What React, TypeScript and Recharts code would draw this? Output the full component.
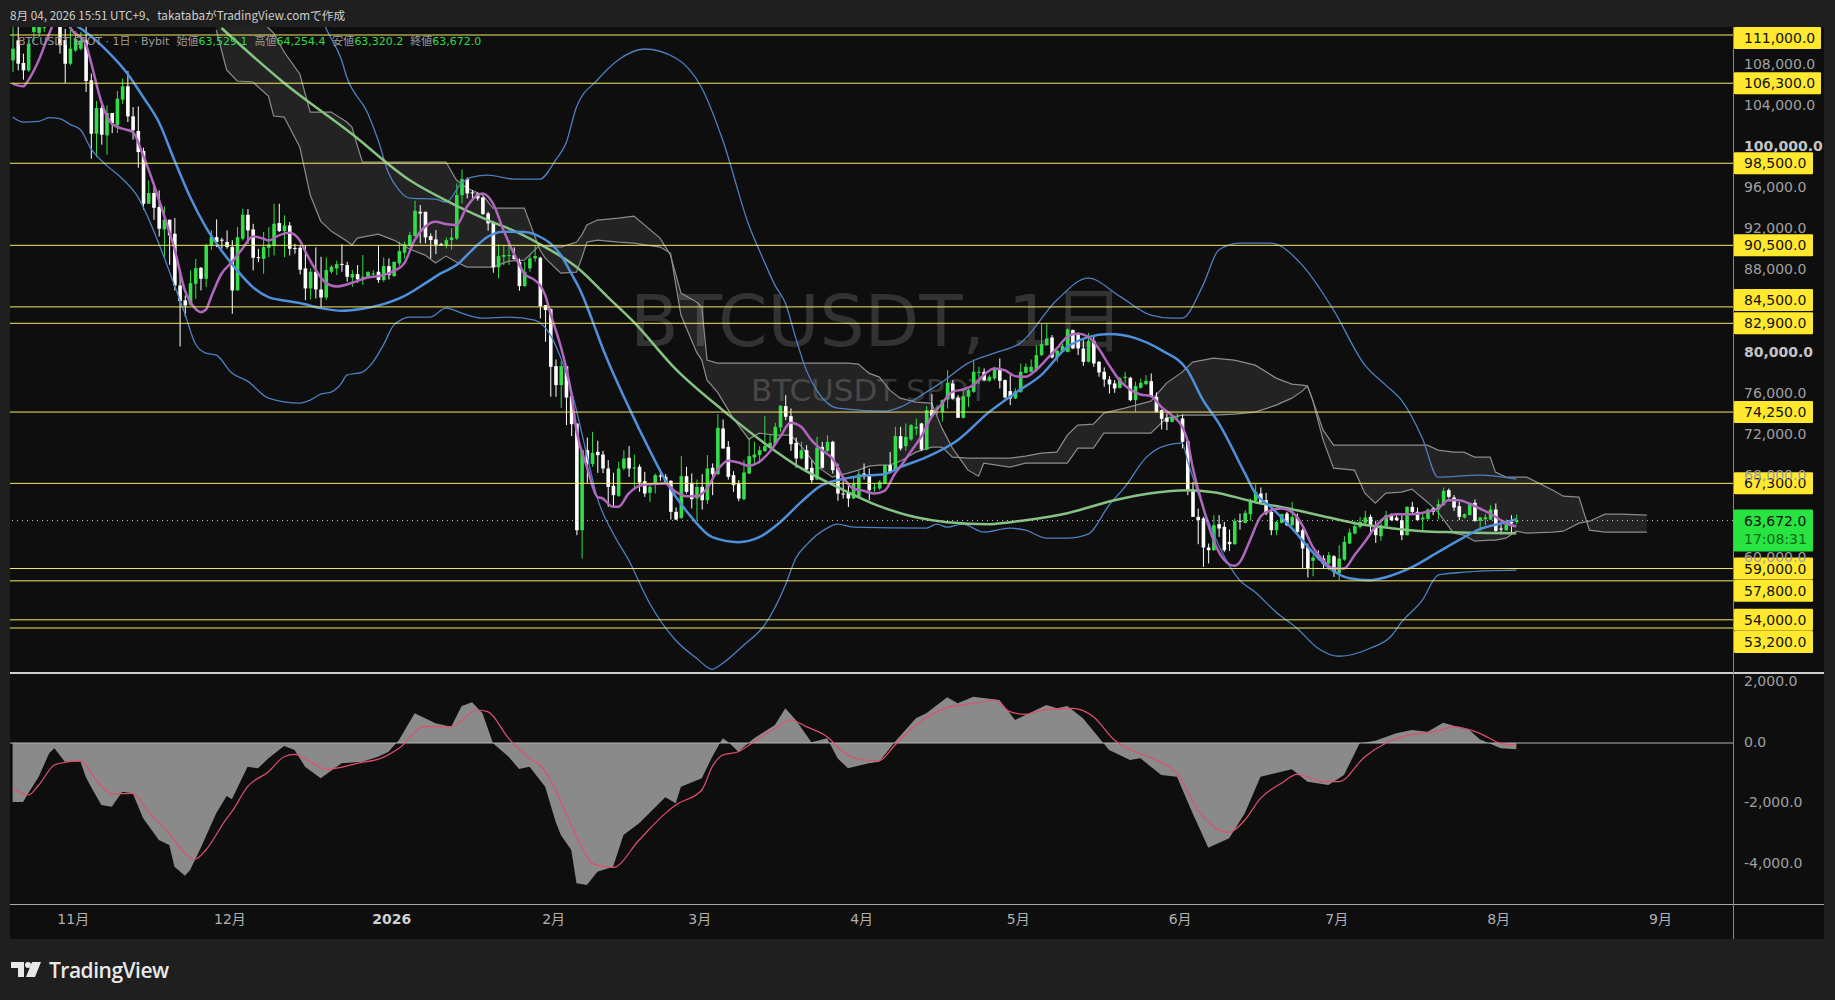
import { Area, Bar, ComposedChart, Line, ReferenceLine, XAxis, YAxis } from "recharts";

// one row per day, 2025-10-20 is slot 0, the axis runs on past the last bar
const SLOTS = 330;

// candles, [open, high, low, close]
const OCT: number[][] = [
  [108530,112000,107390,109670],[110480,112000,107555,108205],[108270,109180,106645,107555],[107555,110480,107400,110155],
  [111300,113000,110400,112300],[111200,113500,110800,113000],[111700,113500,111300,112500],[112800,114000,112300,113500],
  [113500,114500,112500,112900],[112600,113500,109180,110000],[110500,111600,106320,108200],[108200,111700,108050,109670],
];
const NOV: number[][] = [
  [109500,111400,109350,110600],[109670,111300,109500,110480],[110480,111780,105440,106515],[106580,107230,98940,101380],
  [101380,104565,99105,103880],[103880,104150,100310,101280],[101220,104150,99330,103400],[103400,103400,101445,102420],
  [102200,105540,101445,104790],[104700,106740,104300,106000],[106000,107490,102520,103070],[103070,103980,100800,101705],
  [101640,104040,98065,99590],[99690,100015,93970,94555],[94555,96830,94555,95600],[95600,96340,92995,94160],
  [94230,95855,91370,92120],[92050,94300,89190,93000],[93000,93000,88600,91470],[91630,93160,86105,86590],
  [86590,87730,80645,85065],[85130,85620,83505,84640],[84710,88055,84640,86820],[86755,89190,85295,88280],
  [88315,88380,86105,87240],[87240,90650,86430,90490],[90490,91955,90070,91305],[91305,93030,90330,90820],
  [91050,91240,90170,90950],[90820,91955,90170,90330],
];
const DEC: number[][] = [
  [90330,91000,83830,86105],[86105,92280,86105,91305],[91145,94070,90980,93480],[93480,94035,90650,91955],
  [92050,92600,88055,89290],[89350,90170,88870,89250],[89190,91800,87730,90330],[90265,92280,89350,90590],
  [90490,94555,89515,92600],[92670,94555,91790,91890],[91890,93420,89350,92440],[92440,92770,89515,90170],
  [90250,90650,89680,90170],[90265,90490,87665,88120],[88250,90500,85160,86300],[86300,88250,85225,87925],
  [87925,90300,85325,86200],[86200,89390,84512,85420],[85420,89320,85160,88085],[87925,88575,87760,88410],
  [88250,89000,87600,88670],[88690,90620,87925,88620],[88575,88900,86950,87440],[87370,88085,86460,87700],
  [87700,88575,86850,87180],[87370,89550,86625,87440],[87440,87925,87370,87925],[87700,88085,87600,87760],
  [87925,90425,86850,87110],[87110,89320,86950,88475],[88475,89225,87180,87600],
];
const JAN: number[][] = [
  [87500,88900,87440,88900],[88735,90850,88475,89940],[89775,90850,89225,90620],[90525,91825,90360,91500],
  [91400,94850,91340,93870],[93770,94425,90690,93610],[93770,93770,90690,91270],[91400,91660,89225,91010],
  [91075,91985,89650,90555],[90620,90750,90425,90520],[90525,91270,90200,91010],[91010,92150,90100,91270],
  [91175,96540,91010,95400],[95400,97900,94585,96960],[96960,97120,95075,95560],[95660,95890,94910,95560],
  [95560,95630,94850,95075],[95170,95240,93450,93550],[93610,93770,91920,92640],[92700,92860,87825,88350],
  [88350,90620,87275,89450],[89390,90525,88575,89550],[89550,91010,88575,89550],[89550,90300,89125,89160],
  [88900,89225,86075,86525],[86525,88900,86460,87925],[88250,89550,87925,89225],[89225,90525,88900,89450],
  [89290,89390,83375,84575],[84675,84675,81100,84185],[84285,84350,75740,78660],
];
const FEB: number[][] = [
  [78725,79375,75740,76875],[76875,79250,74665,78725],[78725,78725,72975,75670],[75800,75900,71900,73070],
  [73130,73130,62250,62735],[62735,70535,59975,70535],[70535,71770,67350,69235],[69200,72325,68910,70275],
  [70375,71450,68325,70050],[70115,70470,68300,68750],[68750,69560,65010,66960],[67060,68330,65075,66150],
  [66085,69400,65985,68750],[68750,70535,68590,69725],[69790,70930,67935,68750],[68850,70115,66640,68850],
  [68910,69140,66475,67385],[67515,68425,65985,66310],[66375,67125,65500,66960],[67290,68260,66310,68100],
  [68050,68650,67550,68000],[67935,68200,67290,67450],[67550,67600,63775,64525],[64525,64950,63710,63775],
  [63940,69950,63840,68000],[68000,68910,66310,66475],[67350,68260,64850,65760],[65825,67675,63712,66960],
];
const MAR: number[][] = [
  [66960,68200,64750,65660],[65660,70050,65275,68750],[68815,69240,66150,68200],[68200,74047,68100,72715],
  [72650,73530,70700,70700],[70860,71415,67675,67935],[68100,68490,66475,67125],[67290,67612,65565,65825],
  [65760,69560,65660,68360],[68260,71675,68200,69950],[69820,71350,69240,70115],[70050,70930,69240,70535],
  [70440,73850,70375,70930],[70860,72000,70700,71250],[71120,73200,71020,72810],[72750,74925,72325,74860],
  [74830,75900,73460,73790],[73850,74600,70470,71120],[71250,71770,68815,69725],[69725,71350,69625,70535],
  [70535,71020,68590,68650],[68815,69560,67350,67612],[67675,71837,67612,70800],[70860,71350,68750,68815],
  [70440,72000,70375,71350],[71350,71450,68260,68590],[68815,69240,65600,66310],[66310,67600,65820,66250],
  [66375,67290,65010,65825],[65825,67935,65760,67290],[65985,68525,65920,68200],
];
const APR: number[][] = [
  [68260,69240,67675,67935],[68100,68750,65660,66640],[66800,67290,66475,66900],[66800,67612,66640,67450],
  [67290,69140,67225,69075],[69075,70375,68260,68325],[68590,72810,68525,71900],[71900,72810,70500,70700],
  [70925,73137,70470,71837],[71575,73080,71450,72975],[72650,73620,72000,72810],[73137,73200,70470,70600],
  [70600,74830,70535,74437],[74437,76000,73790,73850],[74500,74925,73950,74700],[74280,75475,73300,75410],
  [75475,78337,74600,77100],[77037,77360,75475,75575],[75675,75900,73690,73690],[73690,76550,73625,75800],
  [75735,76550,74760,76385],[76225,79375,76125,78175],[78075,78660,76970,78175],[78175,78500,77260,77360],
  [77300,77850,77200,77687],[77525,78660,77360,78500],[78400,79475,76550,77297],[77360,77425,75575,75675],
  [76290,77850,74925,75575],[75575,76550,75510,76290],
];
const MAY: number[][] = [
  [76225,78985,76125,78175],[78075,78985,78010,78660],[78175,79375,78110,78660],[78337,80775,78175,79800],
  [79800,82820,79700,80870],[80775,82820,80710,81425],[81520,81750,79475,79575],[79575,80290,79150,80225],
  [80125,80935,80060,80675],[80125,82400,80060,82300],[82237,82300,80385,80450],[81850,81915,79800,80450],
  [80450,81260,78760,79150],[79150,81975,79085,81197],[81197,81590,78660,78985],[79150,79215,77687,78110],
  [78175,78600,76710,77425],[77425,77750,76060,76940],[77037,77360,76125,76550],[76615,77687,76550,77525],
  [77575,78175,77037,77687],[77590,77687,75310,75410],[75410,77200,74275,76775],[76615,77525,76550,77100],
  [76970,77850,76875,77297],[77260,78010,75670,75735],[75735,76160,74175,74275],[74437,74500,72550,73590],
  [73690,74115,72487,73300],[73300,73885,73235,73787],[73800,74115,73450,73850],
];
const JUN: number[][] = [
  [73625,74015,70700,71350],[71415,71510,66150,66640],[66700,67450,64037,64037],[64037,64850,61372,63712],
  [63875,64037,59162,61047],[61047,61437,59487,60787],[60787,64200,60720,63225],[63322,64200,62087,62900],
  [63062,63550,60625,60787],[61600,62800,60720,61372],[61372,63875,61307,63647],[63650,64362,62800,63600],
  [63450,64687,63387,64425],[64300,65825,63650,65600],[65600,67225,65500,66475],[66312,66900,65400,65500],
  [65662,66375,64200,64362],[64525,64687,62250,62737],[62737,63647,62250,63550],[63450,64362,63387,64300],
  [64362,64525,63125,63225],[63225,65500,63125,64037],[63975,64362,62475,62575],[62737,62900,59000,60950],
  [61112,61437,58122,59000],[59750,60300,58250,60070],[60137,60787,59812,60070],[59975,60300,59000,59422],
  [59487,60625,58837,60300],[60200,60300,58187,58675],
];
const JUL: number[][] = [
  [58575,61275,57862,59975],[59875,62150,59750,61600],[61437,62900,61372,62510],[62412,63647,62347,63125],
  [63062,64037,62900,63550],[63450,64620,63225,63975],[64037,64265,62250,63125],[63225,63647,61500,62250],
  [62150,63775,61700,63225],[63125,64620,63062,64200],[64200,64362,63650,63712],[63972,64200,63650,63712],
  [63712,64200,61762,62250],[62250,65077,62215,65012],[65012,65500,64362,64525],[64525,64947,63650,63712],
  [63775,64425,62672,63972],[63810,64850,63777,64750],[64850,64947,64200,64525],[64750,65727,63777,65272],
  [65175,66897,65142,66572],[66637,66800,65825,65987],[65922,66150,64622,64947],[65077,65500,63712,64037],
  [63972,64362,63875,64297],[64200,65400,64200,65337],[65402,65727,63550,63647],[63647,64037,62672,63972],
  [63800,64297,63225,64000],[63775,65175,63712,64750],[64750,65337,62575,62672],
];
const AUG: number[][] = [
  [62900,63225,62315,62825],[62737,63775,62672,63322],[63550,64200,62347,63387],[63529.1,64254.4,63320.2,63672],
];
const CANDLES = [...OCT, ...NOV, ...DEC, ...JAN, ...FEB, ...MAR, ...APR, ...MAY, ...JUN, ...JUL, ...AUG];

// lines, [slot, value]
const MA_SHORT: number[][] = [
  [0,106255],[2,105995],[3,106580],[5,108530],[7,111130],[8,112270],[10,113080],[11,111780],[14,110155],[15,108370],[17,104470],[19,102355],
  [21,101870],[23,101540],[25,99270],[27,96505],[29,93420],[31,90170],[33,86105],[35,84320],[36,83990],[37,84220],[38,85450],[40,87730],
  [42,88870],[44,90170],[46,91370],[48,91145],[49,90980],[51,91470],[53,91730],[55,90980],[56,89970],[58,88150],[60,86850],[62,86490],
  [65,86850],[68,87370],[71,87600],[73,87990],[75,88740],[77,91010],[79,92310],[81,92800],[83,92570],[85,92475],[87,94260],[89,95400],
  [90,95560],[92,94585],[94,91985],[96,89710],[98,87760],[100,87110],[101,86625],[102,85650],[103,83860],[105,80610],[107,76060],[108,72480],
  [110,68910],[112,65985],[113,65825],[115,65012],[116,65012],[118,66312],[120,67060],[122,67222],[125,67287],[127,66475],[129,66050],[131,66050],
  [133,66800],[135,68587],[137,69497],[139,69335],[141,69010],[143,69400],[145,70375],[147,71837],[149,73200],[151,72812],[153,71512],[155,70537],
  [157,69725],[159,67937],[161,66800],[163,66572],[165,66312],[167,66572],[169,68262],[170,68912],[172,70375],[174,71837],[176,73787],[178,75087],
  [180,76225],[182,76452],[184,76875],[186,77850],[188,78500],[190,78337],[192,77752],[194,77687],[196,78337],[198,79377],[200,80450],[202,81587],
  [204,81912],[206,81587],[208,80450],[210,78825],[212,77362],[214,76452],[216,75962],[218,75802],[220,74762],[222,73950],[224,72812],[225,71512],
  [226,68912],[228,65012],[230,61762],[232,59877],[234,59260],[235,59585],[237,61762],[239,64037],[241,64687],[243,64850],[245,64525],[247,63225],
  [249,61112],[251,59812],[253,59000],[255,59000],[257,60300],[259,61600],[261,63062],[263,64037],[265,64297],[268,64297],[271,64525],[273,64850],
  [275,65662],[277,65662],[279,65337],[281,64850],[283,64362],[285,63712],[287,63225],[288,63127],
];
const BB_BASIS: number[][] = [
  [11,112270],[14,111290],[18,109505],[22,107230],[25,104955],[28,102517],[31,98780],[34,95205],[37,92280],[40,90005],[43,88055],[46,86430],
  [49,85455],[52,85130],[55,84870],[59,84382],[63,84122],[67,84317],[71,84772],[75,85552],[79,86787],[82,87762],[85,88575],[88,90037],
  [91,91337],[94,91825],[98,91792],[101,91337],[103,90687],[105,89550],[107,87762],[109,85812],[111,83212],[113,80500],[118,74730],[122,70537],
  [125,67612],[130,64005],[134,62055],[139,61567],[143,62055],[147,63517],[151,65467],[155,67125],[158,67612],[162,68002],[167,68197],[170,68880],
  [175,69855],[181,71512],[187,74242],[192,76095],[197,77850],[202,80580],[206,81555],[210,81850],[215,81457],[220,80287],[225,78337],[228,75412],
  [231,73170],[236,68295],[238,66345],[241,64980],[245,62932],[249,60592],[252,59130],[256,58057],[260,57862],[263,58155],[268,59130],[273,60592],
  [277,61762],[281,62835],[286,63517],[288,63810],
];
const BB_UPPER: number[][] = [
  [59,112950],[60,111682],[63,108562],[64,106905],[68,103395],[70,100762],[72,97545],[74,95887],[76,95107],[81,95010],[83,94717],[86,96570],
  [88,97155],[91,97350],[96,96960],[101,96960],[104,98812],[106,100470],[108,103980],[112,106612],[116,108562],[121,109635],[127,108757],[132,105832],
  [136,100762],[141,92475],[144,88867],[146,86625],[148,84870],[150,81457],[152,78337],[154,76387],[158,74632],[167,74340],[170,74730],[175,76192],
  [178,77167],[183,79020],[188,79995],[193,80970],[200,85162],[206,87307],[212,85552],[218,83700],[222,83407],[224,83407],[228,86625],[231,90037],
  [235,90720],[241,90720],[247,88575],[253,84187],[259,78825],[263,76875],[266,75412],[270,71707],[273,67905],[281,68100],[288,67710],
];
const BB_LOWER: number[][] = [
  [0,103005],[2,102517],[5,102582],[7,102940],[9,102842],[11,102290],[13,101770],[15,99917],[18,98292],[21,96992],[24,95205],[27,91955],
  [29,89355],[31,86592],[33,83830],[35,80905],[37,79995],[39,79800],[42,78045],[45,77265],[49,75607],[55,75120],[57,75412],[59,76000],
  [61,76192],[63,77070],[64,77850],[67,78142],[69,79117],[71,80775],[73,82725],[74,83115],[76,83505],[80,83505],[83,84382],[86,83895],
  [90,83407],[95,83505],[100,83212],[103,81750],[105,79507],[107,76387],[110,70050],[112,65857],[115,62445],[118,59812],[122,55620],[127,52012],
  [131,50257],[134,49180],[136,49770],[140,51525],[144,53475],[148,57375],[150,60007],[152,61275],[156,62932],[158,63322],[161,63030],[175,62932],
  [177,63322],[179,63030],[182,63322],[186,62542],[191,62932],[194,62737],[198,61957],[202,61957],[206,62347],[210,65175],[213,66930],[217,69757],
  [220,70830],[224,71220],[225,69562],[228,64980],[231,61275],[235,57862],[238,56692],[242,54742],[246,53182],[250,51232],[254,50452],[260,51232],
  [264,52402],[266,53767],[270,55912],[273,58350],[274,58447],[278,58642],[288,58837],
];
const MA_LONG: number[][] = [
  [40,111682],[52,106320],[65,101347],[76,96862],[84,94620],[91,92962],[97,91695],[102,90330],[108,88380],[114,85455],[119,83017],[127,78435],
  [136,74437],[144,71220],[151,68782],[158,66930],[166,65077],[173,63995],[179,63517],[187,63322],[194,63712],[202,64395],[211,65662],[218,66345],
  [225,66637],[230,66442],[238,65467],[245,64785],[251,64100],[257,63420],[264,62932],[270,62640],[276,62540],[288,62445],
];
// ichimoku spans, [slot, span a, span b]
const CLOUD: number[][] = [
  [39,111487,118312],[41,107587,117337],[43,106515,116362],[46,106417,114412],[49,105052,111682],[50,103102,111195],[52,103005,109342],[55,100080,107197],
  [57,95400,103492],[59,92865,103492],[61,91890,103492],[64,90915,102517],[65,90525,102030],[66,91207,100270],[67,91305,98617],[70,91597,98617],
  [73,91012,98617],[76,90135,98617],[79,89550,98617],[81,88770,98617],[83,89452,98617],[85,88867,96862],[87,88380,96082],[90,88380,95400],
  [92,88380,94132],[95,88965,94132],[98,89062,94132],[101,90525,90037],[102,90427,89257],[105,90330,87795],[108,90817,87892],[109,91500,89257],
  [110,92475,90817],[112,92962,91012],[116,93157,90817],[119,93352,90720],[124,91207,90330],[126,89550,89745],[128,85845,83700],[131,84967,80092],
  [132,84480,79312],[133,79312,77362],[135,79020,76192],[138,79020,73657],[141,79020,71610],[143,79020,72195],[146,79020,72000],[149,79020,72000],
  [151,79020,70927],[154,79020,68977],[157,79020,67905],[160,79020,68295],[162,78922,68587],[164,78045,68977],[166,77655,69075],[168,76387,69075],
  [170,75607,69465],[173,75217,70342],[176,75120,70830],[178,72682,70830],[180,70732,69855],[183,68587,69757],[185,68002,69757],[186,69270,69757],
  [191,68880,69757],[194,69270,69952],[197,69270,70245],[200,69270,70342],[202,69270,72000],[204,70732,72975],[207,70732,73072],[209,72195,74145],
  [213,72195,74632],[218,72195,75315],[221,73657,77070],[224,73950,78142],[226,73950,79117],[230,73950,79507],[234,74047,79312],[238,74242,78825],
  [242,74925,77557],[245,75607,76972],[247,76290,76875],[248,76777,76777],[249,75412,75412],[251,71512,72487],[253,68782,71025],[257,68587,71025],
  [259,66345,71025],[261,65370,71025],[263,66345,71025],[266,66442,71025],[268,66735,71025],[271,65467,71025],[273,64492,70537],[276,62445,70342],
  [278,62250,70342],[280,61665,69855],[283,61762,69855],[284,61762,68392],[286,61957,67905],[288,62640,67905],[290,62445,67905],[295,62542,66637],
  [297,62640,66052],[300,63420,65955],[302,63615,62737],[305,64297,62542],[308,64297,62542],[313,64200,62542],
];
const MACD: number[][] = [
  [0,-1950],[2,-1950],[3,-1664],[5,-1113],[7,-342],[8,-176],[10,-617],[13,-617],[14,-1113],[15,-1443],[17,-2050],[19,-2105],
  [21,-1609],[23,-1664],[25,-2490],[28,-3207],[30,-3372],[31,-4088],[33,-4386],[34,-4199],[36,-3482],[39,-2325],[41,-1752],[42,-1862],
  [45,-782],[47,-838],[49,-507],[52,-99],[54,-231],[56,-782],[59,-1168],[63,-672],[67,-617],[70,-452],[72,-287],[74,99],
  [77,981],[81,650],[84,540],[86,1223],[88,1344],[90,981],[92,-11],[95,-452],[97,-860],[99,-782],[102,-1444],[104,-2601],
  [105,-3042],[107,-3537],[108,-4639],[110,-4695],[112,-4254],[115,-4088],[117,-3042],[120,-2656],[125,-1796],[127,-1995],[128,-1444],[132,-1168],
  [134,-452],[136,154],[137,44],[139,-287],[142,154],[146,595],[148,1146],[150,760],[153,22],[156,154],[158,-507],[160,-838],
  [164,-672],[166,-617],[169,44],[173,815],[175,981],[179,1510],[181,1311],[184,1532],[189,1422],[192,760],[198,1256],[200,1146],
  [202,1223],[205,815],[210,-231],[214,-562],[216,-507],[220,-1058],[223,-1113],[226,-2325],[229,-3460],[233,-3152],[236,-2325],[239,-1113],
  [245,-871],[248,-1278],[252,-1389],[255,-1058],[258,-11],[261,77],[265,320],[268,430],[271,375],[274,672],[279,430],[281,121],
  [285,-176],[288,-209],
];
const SIGNAL: number[][] = [
  [0,-1499],[3,-1719],[5,-1389],[8,-727],[10,-639],[13,-584],[16,-1223],[19,-1686],[23,-1664],[26,-2270],[30,-2986],[33,-3648],
  [35,-3835],[37,-3538],[41,-2490],[42,-2270],[45,-1444],[49,-948],[52,-452],[54,-375],[57,-617],[60,-871],[66,-672],[71,-474],
  [74,-176],[79,540],[84,540],[89,1091],[91,1036],[95,154],[99,-507],[101,-727],[104,-1554],[106,-2325],[109,-3427],[111,-3979],
  [115,-4110],[120,-3207],[125,-2325],[127,-2050],[132,-1554],[134,-782],[136,-397],[139,-287],[142,44],[146,485],[149,760],[152,540],
  [156,209],[159,-287],[163,-562],[166,-584],[169,-66],[173,595],[179,1168],[184,1311],[188,1422],[191,1036],[194,948],[198,1113],
  [203,1146],[207,870],[211,99],[215,-287],[219,-562],[223,-1003],[227,-2215],[230,-2766],[233,-2953],[236,-2546],[239,-1829],[243,-1333],
  [246,-1036],[251,-1278],[254,-1278],[259,-452],[263,-11],[267,242],[273,397],[276,540],[281,320],[285,-11],[288,-66],
];

const LEVELS = [111000, 106300, 98500, 90500, 84500, 82900, 74250, 67300, 59000, 57800, 54000, 53200];
const LAST_PRICE = 63672;
const COUNTDOWN = "17:08:31";
const PRICE_TICKS = [108000, 104000, 100000, 96000, 92000, 88000, 80000, 76000, 72000, 68000, 60000];
const MACD_TICKS = [2000, 0, -2000, -4000];
const MONTH_SLOTS = [12, 42, 73, 104, 132, 163, 193, 224, 254, 285, 316];
const MONTH_LABELS = ["11月", "12月", "2026", "2月", "3月", "4月", "5月", "6月", "7月", "8月", "9月"];

// tags pushed aside so they do not sit on top of each other
const TAG_NUDGE: Record<number, number> = { 111000: 3, 84500: -7, 57800: 10, 53200: 14 };

const AXIS_FONT = "'DejaVu Sans', sans-serif";
const UP = "#35dc4a";
const DOWN = "#ffffff";
const YELLOW = "#ffe82e";

const fmt = (v: number) =>
  v.toLocaleString("en-US", { minimumFractionDigits: 1, maximumFractionDigits: 1 });

function buildRows() {
  const rows: any[] = [];
  for (let i = 0; i < SLOTS; i++) {
    const c = CANDLES[i];
    rows.push(c ? { i, range: [c[2], c[1]], o: c[0], h: c[1], l: c[2], c: c[3] } : { i });
  }
  const put = (list: number[][], key: string) => {
    for (const [i, v] of list) rows[i][key] = v;
  };
  put(MA_SHORT, "maShort");
  put(BB_BASIS, "basis");
  put(BB_UPPER, "upper");
  put(BB_LOWER, "lower");
  put(MA_LONG, "maLong");
  put(MACD, "macd");
  put(SIGNAL, "signal");
  for (const [i, a, b] of CLOUD) rows[i].cloud = [a, b];
  return rows;
}

const rows = buildRows();

function Candle(props: any) {
  const { x, y, width, height, payload } = props;
  if (!payload || payload.o === undefined || !height) return null;
  const perUnit = height / (payload.h - payload.l);
  const top = y + (payload.h - Math.max(payload.o, payload.c)) * perUnit;
  const bodyH = Math.max(Math.abs(payload.o - payload.c) * perUnit, 1);
  const color = payload.c >= payload.o ? UP : DOWN;
  const cx = x + width / 2;
  return (
    <g>
      <rect x={cx - 0.5} y={y} width={1} height={height} fill={color} />
      <rect x={cx - 1.8} y={top} width={3.6} height={bodyH} fill={color} />
    </g>
  );
}

function Tag({ viewBox, value, nudge = 0, fill = YELLOW, sub }: any) {
  if (!viewBox) return null;
  const left = viewBox.x + viewBox.width + 1;
  const mid = viewBox.y + nudge;
  const text = fmt(value);
  const w = text.length > 8 ? 87 : 79;
  return (
    <g fontFamily={AXIS_FONT} fontSize={14}>
      <rect x={left} y={mid - 11} width={w} height={sub ? 42 : 22} rx={1} fill={fill} />
      <text x={1744} y={mid + 5} fill="#111111">{text}</text>
      {sub && <text x={1744} y={mid + 23} fill="#0a6a1c">{sub}</text>}
    </g>
  );
}

function PriceTick({ y, payload }: any) {
  const round = payload.value === 100000 || payload.value === 80000;
  return (
    <text x={1744} y={y + 3.5} fontFamily={AXIS_FONT} fontSize={14} fontWeight={round ? 700 : 400}
      fill={round ? "#c4c4c4" : "#a0a0a0"}>
      {fmt(payload.value)}
    </text>
  );
}

function MonthTick({ x, y, payload }: any) {
  const label = MONTH_LABELS[MONTH_SLOTS.indexOf(payload.value)];
  const year = label === "2026";
  return (
    <text x={x - 2} y={y + 12} textAnchor="middle" fontFamily="'DejaVu Sans', 'Noto Sans CJK JP', sans-serif"
      fontSize={14} fontWeight={year ? 700 : 400} fill={year ? "#d0d0d0" : "#b0b0b0"}>
      {label}
    </text>
  );
}

function Logo() {
  return (
    <svg style={{ position: "absolute", left: 11, top: 960 }} width={32} height={18}>
      <path d="M0 2h13v15H7V8H0z" fill="#e8e8e8" />
      <circle cx={17} cy={5} r={3} fill="#e8e8e8" />
      <path d="M21 2h9l-6 15h-9z" fill="#e8e8e8" />
    </svg>
  );
}

const label = { color: "#9a9a9a" };
const val = { color: "#2fdc48" };

export default function App() {
  return (
    <div style={{ position: "absolute", left: 0, top: 0, width: 1835, height: 1000, background: "#1f1f1f", overflow: "hidden" }}>
      <div style={{ position: "absolute", left: 10, top: 27, width: 1814, height: 912, background: "#0e0e0e" }} />

      <div style={{ position: "absolute", left: 630, top: 272, fontFamily: "'DejaVu Sans', 'Noto Sans CJK JP', sans-serif", fontSize: 71, lineHeight: "100px", color: "#323232", whiteSpace: "nowrap" }}>
        BTCUSDT, 1日
      </div>
      <div style={{ position: "absolute", left: 751, top: 368, fontFamily: "'DejaVu Sans', sans-serif", fontSize: 31, lineHeight: "44px", color: "#363636", whiteSpace: "nowrap" }}>
        BTCUSDT SPOT
      </div>

      <div style={{ position: "absolute", left: 0, top: 0 }}>
        <ComposedChart width={1835} height={673} data={rows} margin={{ top: 27, right: 11, bottom: 0, left: 10 }}>
          <XAxis dataKey="i" hide scale="band" />
          <YAxis orientation="right" width={91} domain={[48817, 111780]} ticks={PRICE_TICKS} allowDataOverflow
            axisLine={false} tickLine={false} interval={0} tick={<PriceTick />} />
          <Area dataKey="cloud" type="linear" connectNulls stroke="#8c8c8c" strokeWidth={1.2} fill="#ffffff" fillOpacity={0.09} isAnimationActive={false} dot={false} activeDot={false} />
          <Bar dataKey="range" shape={<Candle />} barSize={4} isAnimationActive={false} />
          <Line dataKey="upper" type="monotone" connectNulls stroke="#4d80c2" strokeWidth={1.3} dot={false} isAnimationActive={false} />
          <Line dataKey="lower" type="monotone" connectNulls stroke="#4d80c2" strokeWidth={1.3} dot={false} isAnimationActive={false} />
          <Line dataKey="maLong" type="monotone" connectNulls stroke="#86c283" strokeWidth={2.5} dot={false} isAnimationActive={false} />
          <Line dataKey="basis" type="monotone" connectNulls stroke="#4f90dc" strokeWidth={2.5} dot={false} isAnimationActive={false} />
          <Line dataKey="maShort" type="monotone" connectNulls stroke="#b066bd" strokeWidth={2.5} dot={false} isAnimationActive={false} />
          {LEVELS.map((lv) => (
            <ReferenceLine key={lv} y={lv} stroke="#f6e86a" strokeWidth={1}
              label={<Tag value={lv} nudge={TAG_NUDGE[lv] || 0} />} />
          ))}
          <ReferenceLine y={LAST_PRICE} stroke="#c8c8c8" strokeDasharray="1 4" strokeWidth={1}
            label={<Tag value={LAST_PRICE} fill="#28e340" sub={COUNTDOWN} />} />
        </ComposedChart>
      </div>

      <div style={{ position: "absolute", left: 0, top: 674 }}>
        <ComposedChart width={1835} height={265} data={rows} margin={{ top: 0, right: 11, bottom: 0, left: 10 }}>
          <XAxis dataKey="i" scale="band" height={35} ticks={MONTH_SLOTS} interval={0} axisLine={false} tickLine={false} tick={<MonthTick />} />
          <YAxis orientation="right" width={91} domain={[-5322, 2281]} ticks={MACD_TICKS} allowDataOverflow
            axisLine={false} tickLine={false} interval={0} tick={<PriceTick />} />
          <Area dataKey="macd" type="linear" connectNulls stroke="none" fill="#8a8a8a" fillOpacity={1} baseValue={0} isAnimationActive={false} dot={false} activeDot={false} />
          <ReferenceLine y={0} stroke="#b4b4b4" strokeWidth={1} />
          <Line dataKey="signal" type="monotone" connectNulls stroke="#e0506c" strokeWidth={1.2} dot={false} isAnimationActive={false} />
        </ComposedChart>
      </div>

      {/* pane frame */}
      <div style={{ position: "absolute", left: 10, top: 672, width: 1814, height: 2, background: "#cfcfcf" }} />
      <div style={{ position: "absolute", left: 10, top: 904, width: 1814, height: 1, background: "#a8a8a8" }} />
      <div style={{ position: "absolute", left: 1733, top: 27, width: 1, height: 912, background: "#8a8a8a" }} />

      {/* header sits above the panes so anything running off the top is hidden */}
      <div style={{ position: "absolute", left: 0, top: 0, width: 1835, height: 27, background: "#1f1f1f" }} />
      <div style={{ position: "absolute", left: 10, top: 7, fontFamily: "'Noto Sans CJK JP', sans-serif", fontSize: 11.7, lineHeight: "16px", color: "#cfcfcf", whiteSpace: "nowrap" }}>
        8月 04, 2026 15:51 UTC+9、takatabaがTradingView.comで作成
      </div>
      <div style={{ position: "absolute", left: 18, top: 34, fontFamily: "'DejaVu Sans', 'Noto Sans CJK JP', sans-serif", fontSize: 11, lineHeight: "16px", whiteSpace: "pre" }}>
        <span style={label}>BTCUSDT SPOT · 1日 · Bybit  始値</span><span style={val}>63,529.1</span>
        <span style={label}>  高値</span><span style={val}>64,254.4</span>
        <span style={label}>  安値</span><span style={val}>63,320.2</span>
        <span style={label}>  終値</span><span style={val}>63,672.0</span>
      </div>

      <Logo />
      <div style={{ position: "absolute", left: 49, top: 955, fontFamily: "'Open Sans', sans-serif", fontWeight: 600, fontSize: 21, lineHeight: "30px", letterSpacing: "-0.5px", color: "#e8e8e8" }}>
        TradingView
      </div>
    </div>
  );
}
